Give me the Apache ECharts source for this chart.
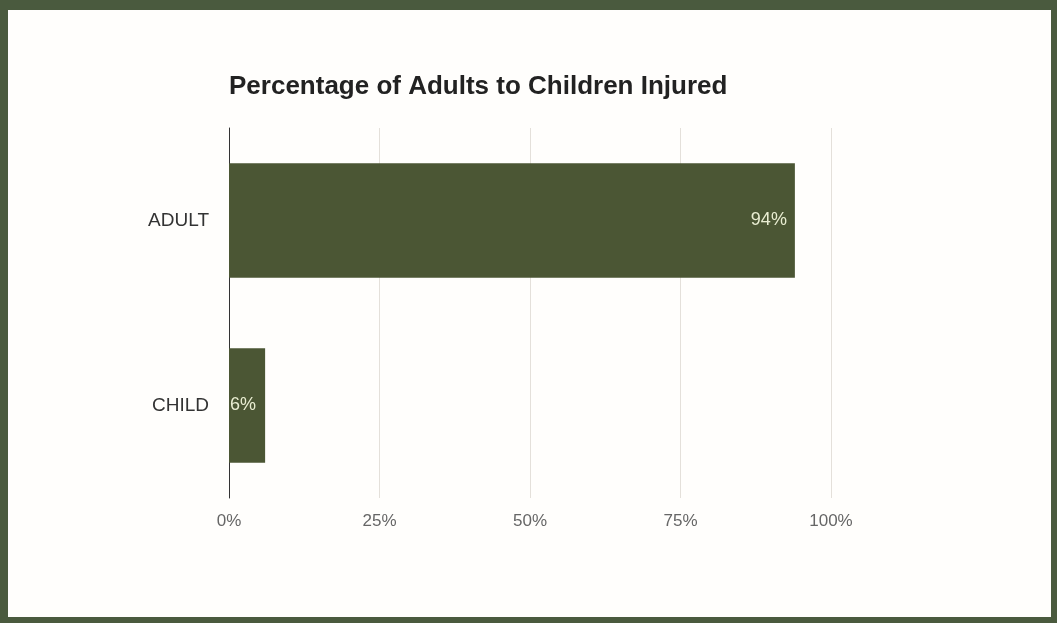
<!DOCTYPE html>
<html><head><meta charset="utf-8">
<script src="https://cdn.jsdelivr.net/npm/echarts@6/dist/echarts.min.js"></script>
<style>
html,body{margin:0;padding:0;background:#4a5a3e;}
#frame{position:absolute;left:8px;top:10px;width:1043px;height:607px;background:#fffefc;}
#c{position:absolute;left:-8px;top:-10px;width:1057px;height:623px;}
</style></head>
<body>
<div id="frame"><div id="c"></div></div>
<script>
const categories = ['ADULT', 'CHILD'];
const values = [94, 6];
const titleText = 'Percentage of Adults to Children Injured';

const chart = echarts.init(document.getElementById('c'));
chart.setOption({
  animation: false,
  title: {
    text: titleText,
    left: 229, top: 74, padding: 0,
    textStyle: {fontFamily: 'Liberation Sans, Arial, sans-serif', fontSize: 26, fontWeight: 'bold', color: '#222'}
  },
  grid: {left: 229, right: 226, top: 128, bottom: 125, containLabel: false},
  xAxis: {
    type: 'value', min: 0, max: 100, interval: 25,
    axisLine: {show: false}, axisTick: {show: false},
    splitLine: {lineStyle: {color: '#e4e0da', width: 1}},
    axisLabel: {formatter: '{value}%', color: '#666', fontSize: 17, margin: 15,
      fontFamily: 'Liberation Sans, Arial, sans-serif'}
  },
  yAxis: {
    type: 'category', data: categories, inverse: true,
    axisLine: {show: true, lineStyle: {color: '#333', width: 1}},
    axisTick: {show: false},
    axisLabel: {color: '#333', fontSize: 19, margin: 20,
      fontFamily: 'Liberation Sans, Arial, sans-serif'}
  },
  series: [{
    type: 'bar',
    data: values.map((v, i) => ({
      value: v,
      label: i === 1 ? {position: 'insideLeft', distance: 1} : {position: 'insideRight', distance: 8}
    })),
    barCategoryGap: '38%',
    itemStyle: {color: '#4b5634'},
    label: {show: true, formatter: '{c}%', color: '#e9edd2', fontSize: 18,
      fontFamily: 'Liberation Sans, Arial, sans-serif'}
  }]
});
</script>
</body></html>
